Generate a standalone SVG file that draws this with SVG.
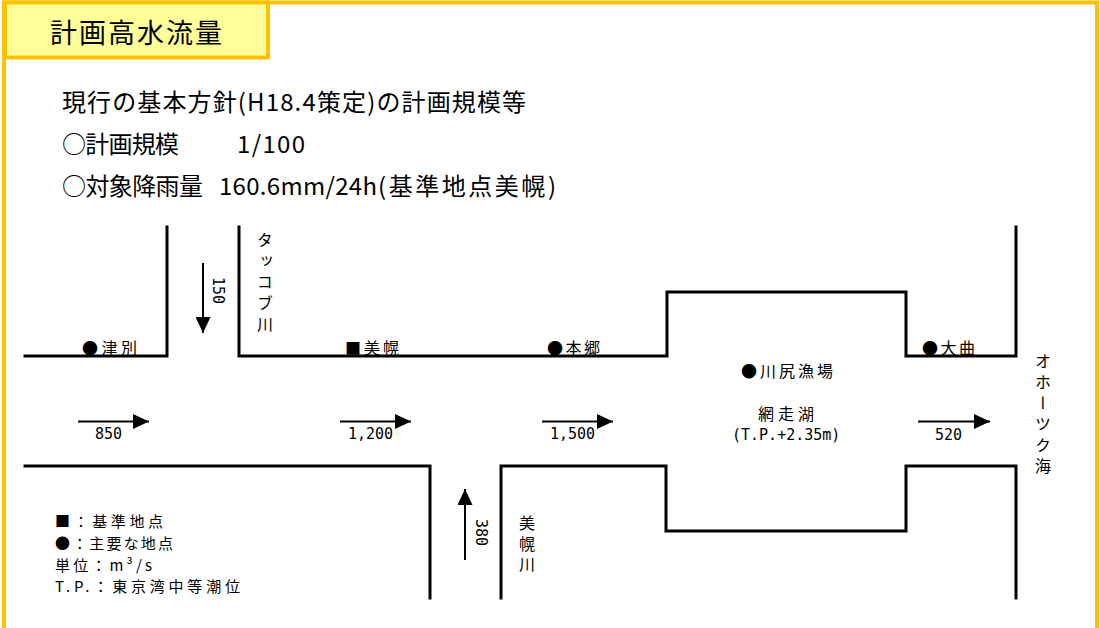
<svg xmlns="http://www.w3.org/2000/svg" width="1100" height="628" viewBox="0 0 1100 628">
<style>
.frame{fill:none;stroke:#FFC000;stroke-width:4}
.tab{fill:#FFFF99;stroke:#FFC000;stroke-width:4}
.bank{fill:none;stroke:#000;stroke-width:3;stroke-linecap:square}
.flow{fill:none;stroke:#000;stroke-width:2}
.t{font-family:"Noto Sans CJK JP","Noto Sans",sans-serif;fill:#000}
.big{font-size:24px}
.lab{font-size:16px}
.leg{font-size:15px}
.num{font-family:"DejaVu Sans Mono","Liberation Mono",monospace;font-size:15px;fill:#000}
.v{writing-mode:vertical-rl}
</style>
<defs>
<marker id="ah" viewBox="0 0 16 15" refX="16" refY="7.5" markerWidth="16" markerHeight="15" markerUnits="userSpaceOnUse" orient="auto">
<path d="M0,0 L16,7.5 L0,15 Z" fill="#000"/>
</marker>
</defs>
<rect width="1100" height="628" fill="#fff"/>
<rect class="frame" x="4" y="2.5" width="1093" height="640"/>
<g id="title">
<rect class="tab" x="5" y="2.5" width="263" height="55"/>
<text class="t" x="50" y="43" font-size="27" textLength="172" lengthAdjust="spacing">計画高水流量</text>
</g>
<g id="header">
<text class="t big" x="62" y="111" textLength="464" lengthAdjust="spacing">現行の基本方針(H18.4策定)の計画規模等</text>
<text class="t big" x="62" y="153" textLength="117" lengthAdjust="spacing">○計画規模</text>
<text class="t big" x="237" y="153" textLength="68" lengthAdjust="spacing">1/100</text>
<text class="t big" x="62" y="195" textLength="141" lengthAdjust="spacing">○対象降雨量</text>
<text class="t big" x="219" y="195" textLength="158" lengthAdjust="spacing">160.6mm/24h</text>
<text class="t big" x="378" y="195" textLength="178" lengthAdjust="spacing">(基準地点美幌)</text>
</g>
<g id="channel">
<path class="bank" d="M25,356 H167 V227"/>
<path class="bank" d="M239,227 V356 H667 V292 H906 V356 H1016 V227"/>
<path class="bank" d="M25,466 H430 V598"/>
<path class="bank" d="M501,598 V466 H666 V531 H906 V466 H1016 V598"/>
</g>
<g id="connectors">
<path class="flow" d="M78,421.5 H149" marker-end="url(#ah)"/>
<path class="flow" d="M340,421.5 H411" marker-end="url(#ah)"/>
<path class="flow" d="M542,421.5 H613" marker-end="url(#ah)"/>
<path class="flow" d="M918,421.5 H990" marker-end="url(#ah)"/>
<path class="flow" d="M203,263 V333" marker-end="url(#ah)"/>
<path class="flow" d="M465,560 V489" marker-end="url(#ah)"/>
</g>
<g id="flow-labels">
<text class="num" x="95" y="439">850</text>
<text class="num" x="348" y="439">1,200</text>
<text class="num" x="550" y="439">1,500</text>
<text class="num" x="935" y="440">520</text>
<text class="num v" x="218" y="277">150</text>
<text class="num v" x="481" y="519">380</text>
</g>
<g id="node-tsubetsu"><text class="t lab" x="82" y="354" textLength="55" lengthAdjust="spacing">●津別</text></g>
<g id="node-bihoro"><text class="t lab" x="345" y="354" textLength="54" lengthAdjust="spacing">■美幌</text></g>
<g id="node-hongo"><text class="t lab" x="547" y="354" textLength="53" lengthAdjust="spacing">●本郷</text></g>
<g id="node-omagari"><text class="t lab" x="922" y="354" textLength="53" lengthAdjust="spacing">●大曲</text></g>
<g id="node-kawajiri"><text class="t lab" x="741" y="377" textLength="92" lengthAdjust="spacing">●川尻漁場</text></g>
<g id="node-abashiriko">
<text class="t lab" x="758" y="420" textLength="56" lengthAdjust="spacing">網走湖</text>
<text class="num" x="732" y="440">(T.P.+2.35m)</text>
</g>
<g id="river-takkobu"><text class="t lab v" x="265" y="232" letter-spacing="5">タッコブ川</text></g>
<g id="river-bihoro"><text class="t lab v" x="527" y="515" letter-spacing="4.5">美幌川</text></g>
<g id="sea"><text class="t lab v" x="1043" y="353" letter-spacing="5">オホーツク海</text></g>
<g id="legend">
<text class="t leg" x="55" y="527" textLength="108" lengthAdjust="spacing">■：基準地点</text>
<text class="t leg" x="55" y="549" textLength="118" lengthAdjust="spacing">●：主要な地点</text>
<text class="t leg" x="55" y="571" textLength="97" lengthAdjust="spacing">単位：m³/s</text>
<text class="t leg" x="55" y="592" textLength="185" lengthAdjust="spacing">T.P.：東京湾中等潮位</text>
</g>
</svg>
